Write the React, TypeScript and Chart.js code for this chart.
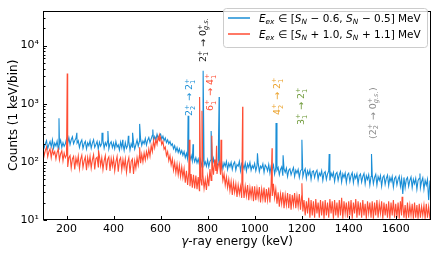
import React, { useEffect, useRef } from "react";
import { Chart, registerables } from "chart.js";

Chart.register(...registerables);

// ---------- data ----------
const BIN_START = 100; // keV, first sampled bin
const BIN_STEP = 5; // keV between sampled bins

// Blue: E_ex in [S_N-0.6, S_N-0.5] MeV (counts per 1 keV bin, sampled every 5 keV)
const blueCounts = [
  218, 176, 205, 232, 170, 198, 224, 182, 240, 172,
  210, 188, 228, 165, 200, 236, 178, 214, 185, 204,
  248, 212, 262, 198, 240, 270, 205, 232, 255, 210,
  230, 176, 215, 238, 170, 205, 226, 168, 212, 190,
  232, 172, 210, 240, 178, 198, 225, 166, 218, 186,
  208, 235, 172, 214, 190, 230, 168, 205, 222, 176,
  212, 168, 224, 180, 196, 160, 218, 175, 205, 158,
  215, 172, 190, 226, 160, 205, 178, 214, 165, 198,
  238, 186, 225, 248, 192, 230, 206, 252, 195, 236,
  262, 215, 248, 285, 230, 272, 240, 298, 255, 282,
  300, 248, 276, 232, 258, 215, 240, 205, 225, 192,
  205, 168, 190, 152, 176, 145, 168, 138, 156, 130,
  150, 118, 140, 112, 132, 108, 128, 104, 122, 100,
  118, 96, 112, 90, 110, 86, 104, 88, 100, 84,
  108, 82, 102, 110, 86, 115, 90, 104, 84, 98,
  106, 80, 100, 76, 96, 84, 102, 74, 94, 82,
  98, 74, 92, 100, 72, 90, 84, 102, 70, 94,
  88, 76, 96, 70, 92, 80, 98, 72, 86, 78,
  94, 70, 86, 96, 68, 84, 78, 92, 66, 88,
  82, 70, 90, 64, 84, 74, 88, 62, 80, 72,
  80, 60, 74, 82, 58, 76, 66, 78, 56, 72,
  76, 60, 70, 80, 56, 72, 64, 74, 54, 70,
  74, 56, 68, 76, 52, 70, 60, 72, 50, 68,
  70, 54, 66, 72, 50, 64, 58, 70, 48, 64,
  68, 50, 62, 70, 48, 64, 56, 66, 46, 62,
  66, 48, 60, 68, 45, 62, 54, 64, 44, 60,
  64, 46, 58, 65, 44, 60, 52, 62, 42, 58,
  62, 45, 56, 63, 42, 58, 50, 60, 40, 56,
  60, 42, 54, 61, 40, 56, 48, 58, 38, 54,
  58, 41, 52, 59, 39, 54, 46, 56, 37, 52,
  56, 40, 50, 57, 38, 52, 28, 54, 36, 50,
  54, 38, 48, 55, 36, 50, 42, 52, 34, 48,
  52, 36, 46, 53, 34, 48, 40, 50, 22, 44,
  38,
];

// Red: E_ex in [S_N+1.0, S_N+1.1] MeV
const redCounts = [
  172, 128, 158, 180, 122, 150, 168, 118, 162, 135,
  150, 112, 145, 165, 108, 138, 155, 104, 142, 118,
  130, 82, 118, 128, 78, 112, 124, 74, 116, 92,
  126, 76, 110, 130, 80, 104, 122, 72, 118, 88,
  124, 78, 108, 132, 74, 114, 120, 82, 126, 86,
  118, 74, 104, 128, 72, 110, 122, 70, 114, 84,
  116, 70, 100, 124, 68, 106, 118, 72, 110, 80,
  112, 66, 98, 118, 64, 102, 112, 62, 104, 78,
  118, 88, 128, 95, 135, 100, 142, 108, 150, 118,
  165, 125, 190, 150, 230, 175, 245, 200, 268, 230,
  262, 200, 225, 165, 180, 128, 150, 105, 128, 88,
  112, 72, 98, 65, 92, 60, 88, 56, 82, 54,
  76, 44, 70, 40, 66, 38, 62, 36, 60, 35,
  58, 34, 55, 32, 52, 40, 60, 35, 50, 33,
  56, 38, 75, 48, 95, 60, 110, 70, 62, 85,
  100, 60, 78, 48, 62, 40, 55, 36, 50, 32,
  46, 27, 44, 30, 42, 25, 40, 28, 38, 24,
  42, 24, 38, 26, 40, 22, 36, 25, 38, 21,
  38, 22, 35, 24, 37, 20, 34, 23, 36, 20,
  34, 22, 36, 20, 40, 26, 42, 24, 34, 19,
  30, 17, 28, 19, 30, 16, 27, 18, 29, 16,
  28, 15, 27, 18, 29, 16, 26, 17, 28, 15,
  26, 14, 22, 12, 21, 13, 24, 11, 22, 12,
  21, 11, 23, 13, 20, 11, 22, 12, 21, 10.5,
  22, 12, 20, 11, 23, 13, 21, 10.5, 22, 12,
  20, 11, 22, 12, 24, 10.5, 21, 13, 20, 11,
  21, 12, 22, 10.5, 20, 13, 23, 11, 21, 12,
  20, 11, 22, 12, 19, 10.5, 21, 13, 20, 11,
  21, 10.5, 20, 12, 22, 11, 19, 13, 21, 10.5,
  20, 12, 19, 11, 21, 10.5, 20, 12, 22, 11,
  19, 11, 20, 10.5, 21, 12, 19, 11, 18, 10.5,
  20, 11, 18, 12, 19, 10.5, 20, 11, 18, 10.5,
  19, 11, 17, 12, 18, 10.5, 19, 11, 17, 11,
  12,
];

// Peaks [energy keV, counts]
const bluePeaks: [number, number][] = [
  [168, 560], [244, 316], [351, 316], [376, 340], [439, 240], [463, 280],
  [481, 316], [511, 450], [567, 360], [717, 620], [738, 200], [781, 3700],
  [815, 340], [849, 1300], [1012, 140], [1091, 464], [1121, 130],
  [1201, 241], [1317, 137], [1497, 137], [1703, 63],
];
const redPeaks: [number, number][] = [
  [203, 3300], [336, 158], [511, 178], [596, 290], [722, 240], [766, 1300],
  [776, 760], [818, 280], [838, 190], [857, 240], [949, 890], [1074, 171],
  [1201, 43], [1627, 25],
];

const xTicks = [200, 400, 600, 800, 1000, 1200, 1400, 1600];
const yTicks = [10, 100, 1000, 10000];
const yTickLabels = ["10\u00b9", "10\u00b2", "10\u00b3", "10\u2074"];
const yMinorFactors = [2, 3, 4, 5, 6, 7, 8, 9];

type Seg = { t?: string; it?: boolean; sub?: string; sup?: string; subIt?: boolean };

const legendTexts: Seg[][] = [
  [
    { t: "E", it: true }, { sub: "ex", subIt: true }, { t: " \u2208 [" },
    { t: "S", it: true }, { sub: "N", subIt: true }, { t: " \u2212 0.6, " },
    { t: "S", it: true }, { sub: "N", subIt: true }, { t: " \u2212 0.5] MeV" },
  ],
  [
    { t: "E", it: true }, { sub: "ex", subIt: true }, { t: " \u2208 [" },
    { t: "S", it: true }, { sub: "N", subIt: true }, { t: " + 1.0, " },
    { t: "S", it: true }, { sub: "N", subIt: true }, { t: " + 1.1] MeV" },
  ],
];

const annotationEnergies = [721, 780, 810, 1095, 1197, 1503];
const annotationTexts: Seg[][] = [
  [{ t: "2" }, { sub: "2", sup: "+" }, { t: " \u2192 2" }, { sub: "1", sup: "+" }],
  [{ t: "2" }, { sub: "1", sup: "+" }, { t: " \u2192 0" }, { sub: "g.s.", sup: "+", subIt: true }],
  [{ t: "6" }, { sub: "1", sup: "+" }, { t: " \u2192 4" }, { sub: "1", sup: "+" }],
  [{ t: "4" }, { sub: "2", sup: "+" }, { t: " \u2192 2" }, { sub: "1", sup: "+" }],
  [{ t: "3" }, { sub: "1", sup: "+" }, { t: " \u2192 2" }, { sub: "1", sup: "+" }],
  [{ t: "(2" }, { sub: "2", sup: "+" }, { t: " \u2192 0" }, { sub: "g.s.", sup: "+", subIt: true }, { t: ")" }],
];

// ---------- styles / layout ----------
const BLUE = "#1a8ed6";
const RED = "#ff4d33";
const annotationColors = [BLUE, "#111111", RED, "#eba22c", "#6f9a3a", "#8a8a8a"];
const annotationBottoms = [116, 62, 111, 115, 125, 139];
const FAMILY = '"DejaVu Sans", sans-serif';

function fontStr(size: number, it?: boolean) {
  return `${it ? "italic " : ""}${size}px ${FAMILY}`;
}

function drawRich(
  ctx: CanvasRenderingContext2D,
  segs: Seg[],
  x: number,
  y: number,
  size: number,
  draw = true
) {
  let cx = x;
  for (const s of segs) {
    if (s.t !== undefined) {
      ctx.font = fontStr(size, s.it);
      if (draw) ctx.fillText(s.t, cx, y);
      cx += ctx.measureText(s.t).width;
    } else {
      const ss = size * 0.7;
      let w = 0;
      if (s.sup) {
        ctx.font = fontStr(ss, false);
        if (draw) ctx.fillText(s.sup, cx, y - size * 0.42);
        w = Math.max(w, ctx.measureText(s.sup).width);
      }
      if (s.sub) {
        ctx.font = fontStr(ss, s.subIt);
        if (draw) ctx.fillText(s.sub, cx, y + size * 0.22);
        w = Math.max(w, ctx.measureText(s.sub).width);
      }
      cx += w + size * 0.04;
    }
  }
  return cx - x;
}

function buildSeries(counts: number[], peaks: [number, number][]) {
  const pts = counts.map((y, i) => ({ x: BIN_START + i * BIN_STEP, y }));
  for (const [x, y] of peaks) pts.push({ x, y });
  pts.sort((a, b) => a.x - b.x);
  return pts;
}

const decorPlugin = {
  id: "decor",
  afterDraw(chart: any) {
    const ctx: CanvasRenderingContext2D = chart.ctx;
    const a = chart.chartArea;
    const xs = chart.scales.x;
    const ys = chart.scales.y;
    ctx.save();
    // frame
    ctx.strokeStyle = "#000";
    ctx.lineWidth = 1;
    const L = Math.round(a.left) + 0.5, R = Math.round(a.right) - 0.5;
    const T = Math.round(a.top) + 0.5, B = Math.round(a.bottom) - 0.5;
    ctx.strokeRect(L, T, R - L, B - T);
    // inward ticks
    ctx.beginPath();
    for (const v of xTicks) {
      const px = Math.round(xs.getPixelForValue(v)) + 0.5;
      ctx.moveTo(px, B);
      ctx.lineTo(px, B - 3.5);
    }
    for (const v of yTicks) {
      const py = Math.round(ys.getPixelForValue(v)) + 0.5;
      ctx.moveTo(L, py);
      ctx.lineTo(L + 3.5, py);
      for (const f of yMinorFactors) {
        const mv = v * f;
        if (mv > ys.max) continue;
        const my = Math.round(ys.getPixelForValue(mv)) + 0.5;
        ctx.moveTo(L, my);
        ctx.lineTo(L + 2, my);
      }
    }
    ctx.stroke();

    // axis titles
    ctx.fillStyle = "#000";
    ctx.textBaseline = "alphabetic";
    const tsize = 12;
    ctx.font = fontStr(tsize, true);
    const g = "\u03b3";
    const gw = ctx.measureText(g).width;
    ctx.font = fontStr(tsize, false);
    const rest = "-ray energy (keV)";
    const rw = ctx.measureText(rest).width;
    const xc = (a.left + a.right) / 2;
    const sx = xc - (gw + rw) / 2;
    ctx.font = fontStr(tsize, true);
    ctx.fillText(g, sx, 245);
    ctx.font = fontStr(tsize, false);
    ctx.fillText(rest, sx + gw, 245);

    ctx.save();
    ctx.translate(16.5, (a.top + a.bottom) / 2);
    ctx.rotate(-Math.PI / 2);
    ctx.textAlign = "center";
    ctx.fillText("Counts (1 keV/bin)", 0, 0);
    ctx.restore();

    // annotations
    const asize = 9.5;
    annotationTexts.forEach((segs, i) => {
      const cx = xs.getPixelForValue(annotationEnergies[i]);
      ctx.save();
      ctx.fillStyle = annotationColors[i];
      ctx.translate(cx + asize * 0.365, annotationBottoms[i]);
      ctx.rotate(-Math.PI / 2);
      drawRich(ctx, segs, 0, 0, asize);
      ctx.restore();
    });

    // legend
    const lx0 = 223.5, ly0 = 8.5, lx1 = 427.5, ly1 = 47.5, r = 3;
    ctx.beginPath();
    ctx.moveTo(lx0 + r, ly0);
    ctx.lineTo(lx1 - r, ly0);
    ctx.quadraticCurveTo(lx1, ly0, lx1, ly0 + r);
    ctx.lineTo(lx1, ly1 - r);
    ctx.quadraticCurveTo(lx1, ly1, lx1 - r, ly1);
    ctx.lineTo(lx0 + r, ly1);
    ctx.quadraticCurveTo(lx0, ly1, lx0, ly1 - r);
    ctx.lineTo(lx0, ly0 + r);
    ctx.quadraticCurveTo(lx0, ly0, lx0 + r, ly0);
    ctx.closePath();
    ctx.fillStyle = "rgba(255,255,255,0.8)";
    ctx.fill();
    ctx.strokeStyle = "#cccccc";
    ctx.lineWidth = 1;
    ctx.stroke();
    const baseSize = 11.5;
    const w0 = drawRich(ctx, legendTexts[0], 0, 0, baseSize, false);
    const lsize = Math.min(baseSize, (baseSize * 162) / w0);
    const rows = [18, 34];
    const cols = [BLUE, RED];
    rows.forEach((ry, i) => {
      ctx.strokeStyle = cols[i];
      ctx.lineWidth = 1.5;
      ctx.beginPath();
      ctx.moveTo(228, ry);
      ctx.lineTo(250, ry);
      ctx.stroke();
      ctx.fillStyle = "#000";
      drawRich(ctx, legendTexts[i], 259, ry + 4, lsize);
    });
    ctx.restore();
  },
};

export default function App() {
  const ref = useRef<HTMLCanvasElement | null>(null);
  useEffect(() => {
    document.body.style.margin = "0";
    const canvas = ref.current!;
    const chart = new Chart(canvas, {
      type: "line",
      data: {
        datasets: [
          {
            label: "red",
            data: buildSeries(redCounts, redPeaks),
            borderColor: RED,
            borderWidth: 1.1,
            pointRadius: 0,
            tension: 0,
            order: 0,
          },
          {
            label: "blue",
            data: buildSeries(blueCounts, bluePeaks),
            borderColor: BLUE,
            borderWidth: 1.1,
            pointRadius: 0,
            tension: 0,
            order: 1,
          },
        ],
      },
      options: {
        animation: false,
        responsive: false,
        maintainAspectRatio: false,
        layout: { padding: { top: 4, right: 5, left: 0, bottom: 0 } },
        plugins: { legend: { display: false }, tooltip: { enabled: false } },
        scales: {
          x: {
            type: "linear",
            min: 100,
            max: 1750,
            grid: { display: false, drawTicks: false },
            border: { display: false },
            ticks: {
              autoSkip: false,
              maxRotation: 0,
              padding: 3,
              color: "#000",
              font: { family: "DejaVu Sans", size: 11 },
              callback: (v: any) => String(v),
            },
            afterBuildTicks: (s: any) => {
              s.ticks = xTicks.map((v) => ({ value: v }));
            },
            afterFit: (s: any) => {
              s.height = 35;
            },
          },
          y: {
            type: "logarithmic",
            min: 10,
            max: 40000,
            grid: { display: false, drawTicks: false },
            border: { display: false },
            ticks: {
              autoSkip: false,
              padding: 4,
              color: "#000",
              font: { family: "DejaVu Sans", size: 11 },
              callback: (v: any) => {
                const i = yTicks.indexOf(Number(v));
                return i >= 0 ? yTickLabels[i] : "";
              },
            },
            afterBuildTicks: (s: any) => {
              s.ticks = yTicks.map((v) => ({ value: v }));
            },
            afterFit: (s: any) => {
              s.width = 43;
            },
          },
        },
      },
      plugins: [decorPlugin],
    } as any);
    return () => chart.destroy();
  }, []);
  return (
    <canvas
      ref={ref}
      width={436}
      height={255}
      style={{ display: "block", width: 436, height: 255 }}
    />
  );
}
